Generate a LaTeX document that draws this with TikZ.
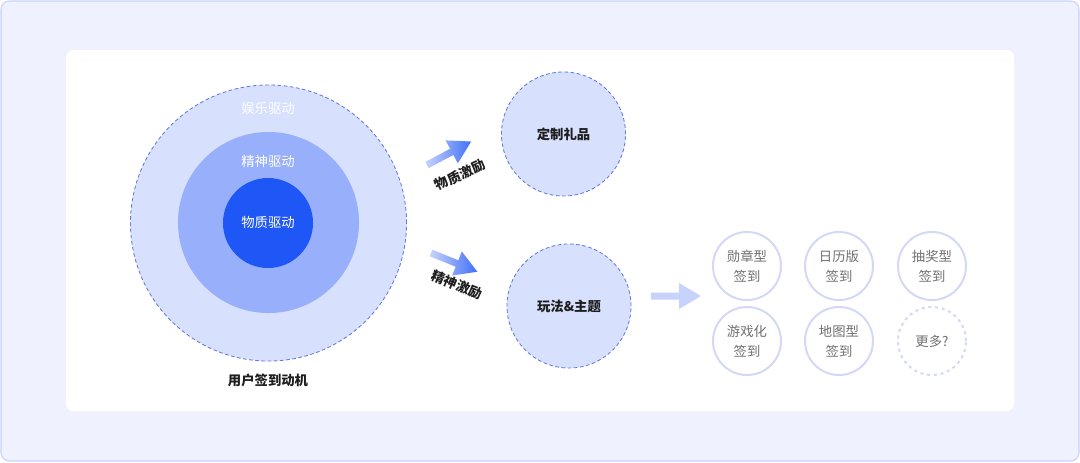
\documentclass[tikz,border=0pt]{standalone}
\usepackage{fontspec}
\setmainfont{Noto Sans CJK SC}
\usepackage{xcolor}
\definecolor{pagebg}{HTML}{EFF2FE}
\definecolor{pageline}{HTML}{C9D3FB}
\definecolor{ringline}{HTML}{6479DC}
\definecolor{paleblue}{HTML}{D7E0FD}
\definecolor{midblue}{HTML}{98B0FB}
\definecolor{deepblue}{HTML}{1F56F6}
\definecolor{tagline}{HTML}{D3D8F6}
\definecolor{tagtext}{HTML}{707070}
\definecolor{arrowpale}{HTML}{C7D3FC}
\definecolor{inktext}{HTML}{1E1E1E}

\tikzset{
  pics/fatarrow/.style={code={
    \path[#1] (0,-3.5) -- (28,-3.5) -- (28,-13) -- (50,0) -- (28,13) -- (28,3.5) -- (0,3.5) -- cycle;
  }}
}

\begin{document}
\begin{tikzpicture}[x=0.025cm,y=-0.025cm,
    font=\fontsize{9.5}{11}\selectfont,
    ring/.style={circle,draw=ringline,line width=0.6pt,dash pattern=on 2.6pt off 1.8pt,fill=paleblue,inner sep=0pt},
    disc/.style={circle,inner sep=0pt},
    tag/.style={circle,draw=tagline,line width=1.4pt,minimum size=1.7cm,inner sep=0pt,
                text=tagtext,align=center,font=\fontsize{9.5}{14}\selectfont},
    whitetxt/.style={text=white},
    inktxt/.style={text=inktext,font=\fontsize{9.5}{11}\selectfont\bfseries},
  ]
    \useasboundingbox (0,0) rectangle (1080,462);
    % page and card
    \draw[pageline,fill=pagebg,rounded corners=6pt,line width=0.8pt] (1,1) rectangle (1079,461);
    \fill[white,rounded corners=5pt] (66,50) rectangle (1014,411);

    % motivation rings
    \node[ring,minimum size=6.9cm] (fun) at (268.5,223) {};
    \node[disc,fill=midblue,minimum size=4.525cm] (spirit) at (268.5,222.5) {};
    \node[disc,fill=deepblue,minimum size=2.25cm] (matter) at (268,223) {};
    \node[whitetxt] (funlbl) at (268,108) {娱乐驱动};
    \node[whitetxt] (spiritlbl) at (268,161) {精神驱动};
    \node[whitetxt] (matterlbl) at (268,222) {物质驱动};
    \node[inktxt] (motive) at (268,380) {用户签到动机};

    % incentives
    \pic[rotate=28] at (427,165) {fatarrow={left color=arrowpale,right color=deepblue!85}};
    \pic[rotate=-22] at (431,253) {fatarrow={left color=arrowpale,right color=deepblue!85}};
    \node[inktxt,rotate=25] (matinc) at (460,175) {物质激励};
    \node[inktxt,rotate=-22] (spiinc) at (457,285) {精神激励};

    \node[ring,inktxt,minimum size=3.1cm] (gift) at (563.5,134) {定制礼品};
    \node[ring,inktxt,minimum size=3.1cm] (play) at (569,306) {玩法\&主题};

    \pic at (651,296) {fatarrow={fill=arrowpale}};

    % check-in types
    \node[tag] (medal) at (747,266) {勋章型\\签到};
    \node[tag] (calendar) at (839,266) {日历版\\签到};
    \node[tag] (lottery) at (932,266) {抽奖型\\签到};
    \node[tag] (game) at (747,341) {游戏化\\签到};
    \node[tag] (map) at (839,341) {地图型\\签到};
    \node[tag,dash pattern=on 2.2pt off 2.6pt] (more) at (932,341) {更多?};
\end{tikzpicture}
\end{document}
